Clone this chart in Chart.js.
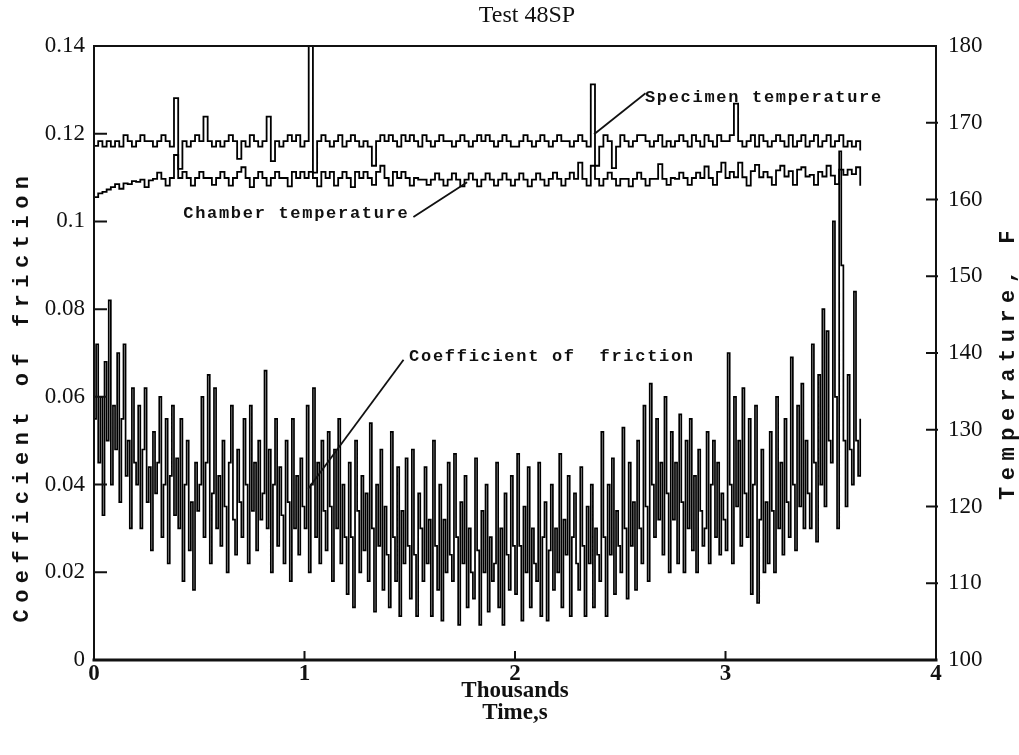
<!DOCTYPE html>
<html><head><meta charset="utf-8">
<script src="https://cdn.jsdelivr.net/npm/chart.js@4"></script>
<style>html,body{margin:0;padding:0;background:#fff}canvas{display:block}</style>
</head><body>
<canvas id="c" width="1019" height="755"></canvas>
<script>
// Friction samples: time in thousands of seconds
const frictionTime = [
0,0.01,0.02,0.03,0.04,0.05,0.06,0.07,0.08,0.09,
0.1,0.11,0.12,0.13,0.14,0.15,0.16,0.17,0.18,0.19,
0.2,0.21,0.22,0.23,0.24,0.25,0.26,0.27,0.28,0.29,
0.3,0.31,0.32,0.33,0.34,0.35,0.36,0.37,0.38,0.39,
0.4,0.41,0.42,0.43,0.44,0.45,0.46,0.47,0.48,0.49,
0.5,0.51,0.52,0.53,0.54,0.55,0.56,0.57,0.58,0.59,
0.6,0.61,0.62,0.63,0.64,0.65,0.66,0.67,0.68,0.69,
0.7,0.71,0.72,0.73,0.74,0.75,0.76,0.77,0.78,0.79,
0.8,0.81,0.82,0.83,0.84,0.85,0.86,0.87,0.88,0.89,
0.9,0.91,0.92,0.93,0.94,0.95,0.96,0.97,0.98,0.99,
1,1.01,1.02,1.03,1.04,1.05,1.06,1.07,1.08,1.09,
1.1,1.11,1.12,1.13,1.14,1.15,1.16,1.17,1.18,1.19,
1.2,1.21,1.22,1.23,1.24,1.25,1.26,1.27,1.28,1.29,
1.3,1.31,1.32,1.33,1.34,1.35,1.36,1.37,1.38,1.39,
1.4,1.41,1.42,1.43,1.44,1.45,1.46,1.47,1.48,1.49,
1.5,1.51,1.52,1.53,1.54,1.55,1.56,1.57,1.58,1.59,
1.6,1.61,1.62,1.63,1.64,1.65,1.66,1.67,1.68,1.69,
1.7,1.71,1.72,1.73,1.74,1.75,1.76,1.77,1.78,1.79,
1.8,1.81,1.82,1.83,1.84,1.85,1.86,1.87,1.88,1.89,
1.9,1.91,1.92,1.93,1.94,1.95,1.96,1.97,1.98,1.99,
2,2.01,2.02,2.03,2.04,2.05,2.06,2.07,2.08,2.09,
2.1,2.11,2.12,2.13,2.14,2.15,2.16,2.17,2.18,2.19,
2.2,2.21,2.22,2.23,2.24,2.25,2.26,2.27,2.28,2.29,
2.3,2.31,2.32,2.33,2.34,2.35,2.36,2.37,2.38,2.39,
2.4,2.41,2.42,2.43,2.44,2.45,2.46,2.47,2.48,2.49,
2.5,2.51,2.52,2.53,2.54,2.55,2.56,2.57,2.58,2.59,
2.6,2.61,2.62,2.63,2.64,2.65,2.66,2.67,2.68,2.69,
2.7,2.71,2.72,2.73,2.74,2.75,2.76,2.77,2.78,2.79,
2.8,2.81,2.82,2.83,2.84,2.85,2.86,2.87,2.88,2.89,
2.9,2.91,2.92,2.93,2.94,2.95,2.96,2.97,2.98,2.99,
3,3.01,3.02,3.03,3.04,3.05,3.06,3.07,3.08,3.09,
3.1,3.11,3.12,3.13,3.14,3.15,3.16,3.17,3.18,3.19,
3.2,3.21,3.22,3.23,3.24,3.25,3.26,3.27,3.28,3.29,
3.3,3.31,3.32,3.33,3.34,3.35,3.36,3.37,3.38,3.39,
3.4,3.41,3.42,3.43,3.44,3.45,3.46,3.47,3.48,3.49,
3.5,3.51,3.52,3.53,3.54,3.55,3.56,3.57,3.58,3.59,
3.6,3.61,3.62,3.63,3.64];

const frictionCoef = [
0.055,0.072,0.045,0.06,0.033,0.068,0.05,0.082,0.04,0.058,
0.048,0.07,0.036,0.055,0.072,0.042,0.05,0.03,0.062,0.045,
0.04,0.058,0.03,0.048,0.062,0.036,0.044,0.025,0.052,0.038,
0.045,0.06,0.028,0.04,0.055,0.022,0.042,0.058,0.033,0.046,
0.03,0.055,0.018,0.04,0.05,0.025,0.036,0.016,0.045,0.034,
0.04,0.06,0.028,0.045,0.065,0.022,0.038,0.062,0.03,0.042,
0.026,0.05,0.035,0.02,0.045,0.058,0.032,0.024,0.048,0.036,
0.028,0.055,0.04,0.022,0.058,0.034,0.045,0.025,0.05,0.032,
0.038,0.066,0.03,0.048,0.02,0.04,0.055,0.026,0.044,0.033,
0.022,0.05,0.036,0.018,0.055,0.03,0.042,0.024,0.046,0.035,
0.03,0.058,0.02,0.04,0.062,0.028,0.045,0.022,0.05,0.034,
0.025,0.052,0.035,0.018,0.048,0.03,0.055,0.022,0.04,0.028,
0.015,0.045,0.028,0.012,0.05,0.034,0.02,0.042,0.025,0.038,
0.018,0.054,0.03,0.011,0.04,0.026,0.048,0.016,0.035,0.024,
0.012,0.052,0.028,0.018,0.044,0.01,0.034,0.022,0.046,0.026,
0.014,0.048,0.024,0.01,0.038,0.03,0.018,0.044,0.022,0.032,
0.01,0.05,0.026,0.016,0.04,0.009,0.032,0.02,0.045,0.024,
0.018,0.047,0.028,0.008,0.036,0.022,0.042,0.012,0.03,0.02,
0.014,0.046,0.025,0.008,0.034,0.02,0.04,0.011,0.028,0.018,
0.022,0.045,0.012,0.03,0.008,0.038,0.024,0.016,0.042,0.026,
0.015,0.047,0.026,0.009,0.035,0.02,0.044,0.012,0.03,0.022,
0.018,0.045,0.01,0.028,0.036,0.009,0.025,0.04,0.016,0.03,
0.02,0.047,0.012,0.032,0.024,0.042,0.01,0.028,0.038,0.022,
0.016,0.044,0.026,0.01,0.035,0.022,0.04,0.012,0.03,0.024,
0.018,0.052,0.028,0.01,0.04,0.024,0.046,0.015,0.034,0.026,
0.02,0.053,0.03,0.014,0.045,0.026,0.036,0.016,0.05,0.03,
0.022,0.058,0.035,0.018,0.063,0.04,0.028,0.055,0.032,0.045,
0.024,0.06,0.038,0.02,0.052,0.032,0.045,0.022,0.056,0.036,
0.02,0.05,0.03,0.055,0.025,0.042,0.02,0.048,0.034,0.026,
0.03,0.052,0.022,0.04,0.05,0.028,0.045,0.024,0.038,0.032,
0.025,0.07,0.04,0.022,0.06,0.035,0.05,0.026,0.062,0.038,
0.028,0.055,0.015,0.04,0.058,0.013,0.032,0.048,0.02,0.036,
0.022,0.052,0.034,0.02,0.06,0.03,0.045,0.024,0.055,0.036,
0.028,0.069,0.04,0.025,0.058,0.035,0.063,0.03,0.05,0.038,
0.03,0.072,0.045,0.027,0.065,0.04,0.08,0.035,0.075,0.05,
0.045,0.1,0.06,0.03,0.116,0.09,0.05,0.035,0.065,0.048,
0.04,0.084,0.05,0.042,0.055];

// Temperature samples: time in thousands of seconds
const temperatureTime = [
0,0.02,0.04,0.06,0.08,0.1,0.12,0.14,0.16,0.18,
0.2,0.22,0.24,0.26,0.28,0.3,0.32,0.34,0.36,0.38,
0.4,0.42,0.44,0.46,0.48,0.5,0.52,0.54,0.56,0.58,
0.6,0.62,0.64,0.66,0.68,0.7,0.72,0.74,0.76,0.78,
0.8,0.82,0.84,0.86,0.88,0.9,0.92,0.94,0.96,0.98,
1,1.02,1.04,1.06,1.08,1.1,1.12,1.14,1.16,1.18,
1.2,1.22,1.24,1.26,1.28,1.3,1.32,1.34,1.36,1.38,
1.4,1.42,1.44,1.46,1.48,1.5,1.52,1.54,1.56,1.58,
1.6,1.62,1.64,1.66,1.68,1.7,1.72,1.74,1.76,1.78,
1.8,1.82,1.84,1.86,1.88,1.9,1.92,1.94,1.96,1.98,
2,2.02,2.04,2.06,2.08,2.1,2.12,2.14,2.16,2.18,
2.2,2.22,2.24,2.26,2.28,2.3,2.32,2.34,2.36,2.38,
2.4,2.42,2.44,2.46,2.48,2.5,2.52,2.54,2.56,2.58,
2.6,2.62,2.64,2.66,2.68,2.7,2.72,2.74,2.76,2.78,
2.8,2.82,2.84,2.86,2.88,2.9,2.92,2.94,2.96,2.98,
3,3.02,3.04,3.06,3.08,3.1,3.12,3.14,3.16,3.18,
3.2,3.22,3.24,3.26,3.28,3.3,3.32,3.34,3.36,3.38,
3.4,3.42,3.44,3.46,3.48,3.5,3.52,3.54,3.56,3.58,
3.6,3.62,3.64];

const specimenTempF = [
167.0,167.6,166.9,167.6,166.9,167.6,166.9,168.4,167.6,166.9,
167.6,168.4,167.6,167.6,166.9,167.6,168.4,167.6,166.9,173.2,
164.0,167.6,166.9,167.6,168.4,167.6,170.8,167.6,166.9,167.6,
166.9,167.6,168.4,167.6,165.3,167.6,166.9,168.4,167.6,166.9,
167.6,170.8,165.0,167.6,166.9,167.6,168.4,167.6,168.4,166.9,
167.6,180.0,163.5,167.6,168.4,167.6,166.9,167.6,168.4,166.9,
167.6,168.4,167.6,166.9,167.6,166.9,164.4,167.6,168.4,167.6,
168.4,167.6,166.9,168.4,167.6,168.4,167.6,166.9,168.4,167.6,
166.9,167.6,168.4,167.6,167.6,166.9,167.6,168.4,167.6,166.9,
167.6,168.4,167.6,168.4,167.6,166.9,167.6,168.4,167.6,166.9,
166.9,167.6,168.4,167.6,166.9,167.6,168.4,167.6,166.9,167.6,
168.4,167.6,167.6,166.9,167.6,168.4,167.6,166.9,175.0,164.4,
166.9,168.4,167.6,164.1,166.9,168.4,167.6,166.9,167.6,168.4,
168.4,167.6,166.9,167.6,168.4,166.9,167.6,166.9,167.6,168.4,
167.6,166.9,168.4,167.6,166.9,168.4,167.6,166.9,168.4,167.6,
167.6,168.4,172.5,167.6,166.9,167.6,168.4,166.9,168.4,167.6,
166.9,167.6,168.4,167.6,166.9,168.4,166.9,167.6,168.4,166.9,
167.6,168.4,166.9,167.6,168.4,166.9,167.6,168.4,166.9,167.6,
166.9,167.6,166.4];

const chamberTempF = [
160.3,160.8,161.0,161.3,161.6,162.0,161.4,162.1,162.0,162.4,
162.3,162.6,161.6,162.5,162.7,163.5,162.7,161.8,162.8,165.8,
162.8,163.6,162.8,161.8,162.8,163.6,162.8,162.8,161.9,162.8,
163.6,162.8,161.8,162.8,163.6,164.2,162.8,161.6,162.8,163.6,
162.8,161.8,162.8,163.6,162.8,162.8,161.7,163.6,162.8,163.6,
162.8,163.6,162.8,161.7,163.6,162.8,163.6,161.8,162.8,163.6,
162.8,161.6,163.6,162.8,163.6,162.8,161.9,163.6,164.4,162.8,
161.8,163.6,162.8,163.6,162.8,161.8,162.8,162.6,162.6,161.9,
162.6,163.4,162.6,161.8,162.6,163.4,162.6,161.7,162.6,163.4,
162.6,161.7,162.6,163.4,162.6,161.8,162.6,163.4,162.6,161.8,
162.6,163.4,162.6,161.7,162.6,163.4,162.6,161.8,162.7,163.5,
162.7,161.8,162.7,163.5,162.7,164.8,162.7,161.8,164.4,162.7,
161.8,162.7,163.5,162.7,161.8,162.7,162.7,161.7,162.7,163.5,
162.7,161.8,162.7,162.7,164.6,162.7,161.9,162.8,162.7,163.5,
162.8,161.9,162.8,163.5,162.8,164.3,162.8,161.9,163.6,164.8,
162.8,163.6,162.9,164.8,162.9,161.8,163.7,164.5,162.9,163.6,
162.9,161.9,163.8,164.4,163.0,163.7,161.9,163.9,164.2,163.0,
163.2,161.9,163.6,163.0,164.4,163.1,162.0,163.9,163.2,163.9,
163.3,164.2,161.8];

const xTickValues = [0,1,2,3,4];
const frictionTickValues = [0,0.02,0.04,0.06,0.08,0.1,0.12,0.14];
const tempTickValues = [100,110,120,130,140,150,160,170,180];

// Callout labels (placed in data units: time, friction)
const callouts = [
  {text:'Specimen temperature', t:2.617, v:0.1282, from:[2.617,0.1291], to:[2.379,0.1200]},
  {text:'Chamber temperature', t:0.424, v:0.1018, from:[1.521,0.1011], to:[1.769,0.1088]},
  {text:'Coefficient of  friction', t:1.497, v:0.0692, from:[1.468,0.0683], to:[1.020,0.0392]}
];

function pts(ts, ys){ return ts.map((t,i)=>({x:t,y:ys[i]})); }
const INK = '#111';

const bgPlugin = {
  id:'bg',
  beforeDraw(chart){
    const c = chart.ctx; c.save(); c.fillStyle='#fff'; c.fillRect(0,0,chart.width,chart.height); c.restore();
  }
};

const framePlugin = {
  id:'frame',
  afterDatasetsDraw(chart){
    const c = chart.ctx, a = chart.chartArea;
    const sx = chart.scales.x, sy = chart.scales.y, sr = chart.scales.y1;
    c.save();
    c.strokeStyle = INK; c.lineCap='square';
    c.lineWidth = 2;
    c.beginPath();
    c.moveTo(a.left,a.bottom); c.lineTo(a.left,a.top); c.lineTo(a.right,a.top); c.lineTo(a.right,a.bottom);
    c.stroke();
    c.lineWidth = 3;
    c.beginPath(); c.moveTo(a.left,a.bottom); c.lineTo(a.right,a.bottom); c.stroke();
    c.lineWidth = 2;
    c.beginPath();
    frictionTickValues.forEach(v=>{ if(v<=0||v>=0.14) return; const y=sy.getPixelForValue(v); c.moveTo(a.left,y); c.lineTo(a.left+12,y); });
    tempTickValues.forEach(v=>{ if(v<=100||v>=180) return; const y=sr.getPixelForValue(v); c.moveTo(a.right-9,y); c.lineTo(a.right+1,y); });
    xTickValues.forEach(v=>{ if(v<=0||v>=4) return; const x=sx.getPixelForValue(v); c.moveTo(x,a.bottom); c.lineTo(x,a.bottom-8); });
    c.stroke();

    // callouts
    c.fillStyle = INK; c.textBaseline='middle'; c.textAlign='left';
    c.font = 'bold 17px "Liberation Mono", "DejaVu Sans Mono", monospace';
    c.letterSpacing = '1.7px';
    c.lineWidth = 1.8;
    callouts.forEach(o=>{
      c.fillText(o.text, sx.getPixelForValue(o.t), sy.getPixelForValue(o.v));
      c.beginPath();
      c.moveTo(sx.getPixelForValue(o.from[0]), sy.getPixelForValue(o.from[1]));
      c.lineTo(sx.getPixelForValue(o.to[0]), sy.getPixelForValue(o.to[1]));
      c.stroke();
    });
    c.letterSpacing = '0px';

    // titles
    c.textAlign='center';
    c.font = '24px "Liberation Serif", serif';
    c.fillText('Test 48SP', 527, 16);
    c.font = 'bold 23px "Liberation Serif", serif';
    c.fillText('Thousands', (a.left+a.right)/2, 691);
    c.fillText('Time,s', (a.left+a.right)/2, 713);

    c.font = 'bold 22px "Liberation Mono", "DejaVu Sans Mono", monospace';
    c.letterSpacing = '6.5px';
    c.save(); c.translate(22, 396); c.rotate(-Math.PI/2); c.fillText('Coefficient of friction', 0, 0); c.restore();
    c.save(); c.translate(1008, 362); c.rotate(-Math.PI/2); c.fillText('Temperature, F', 0, 0); c.restore();
    c.letterSpacing = '0px';
    c.restore();
  }
};

const tickFont = {family:'"Liberation Serif", serif', size:23};
const common = {grid:{display:false, drawTicks:false}, border:{display:false}};

new Chart(document.getElementById('c').getContext('2d'), {
  type:'line',
  data:{datasets:[
    {label:'Coefficient of friction', data:pts(frictionTime, frictionCoef), yAxisID:'y', stepped:true, borderColor:'#000', borderWidth:1.7, pointRadius:0, fill:false},
    {label:'Specimen temperature', data:pts(temperatureTime, specimenTempF), yAxisID:'y1', stepped:true, borderColor:'#000', borderWidth:1.8, pointRadius:0, fill:false},
    {label:'Chamber temperature', data:pts(temperatureTime, chamberTempF), yAxisID:'y1', stepped:true, borderColor:'#000', borderWidth:1.8, pointRadius:0, fill:false}
  ]},
  options:{
    responsive:false, animation:false, events:[],
    layout:{padding:{top:46,left:0,right:0,bottom:0}},
    plugins:{legend:{display:false}, title:{display:false}, tooltip:{enabled:false}},
    scales:{
      x:{...common, type:'linear', min:0, max:4,
        afterBuildTicks:s=>{ s.ticks = xTickValues.map(v=>({value:v})); },
        ticks:{padding:0, color:INK, maxRotation:0, font:{...tickFont, weight:'bold'}, callback:v=>String(v)},
        afterFit:s=>{ s.height = 95; }},
      y:{...common, position:'left', min:0, max:0.14,
        afterBuildTicks:s=>{ s.ticks = frictionTickValues.map(v=>({value:v})); },
        ticks:{padding:9, color:INK, font:tickFont, callback:v=>String(+(+v).toFixed(2))},
        afterFit:s=>{ s.width = 94; }},
      y1:{...common, position:'right', min:100, max:180,
        afterBuildTicks:s=>{ s.ticks = tempTickValues.map(v=>({value:v})); },
        ticks:{padding:12, color:INK, font:tickFont, callback:v=>String(v)},
        afterFit:s=>{ s.width = 83; }}
    }
  },
  plugins:[bgPlugin, framePlugin]
});
</script>
</body></html>
